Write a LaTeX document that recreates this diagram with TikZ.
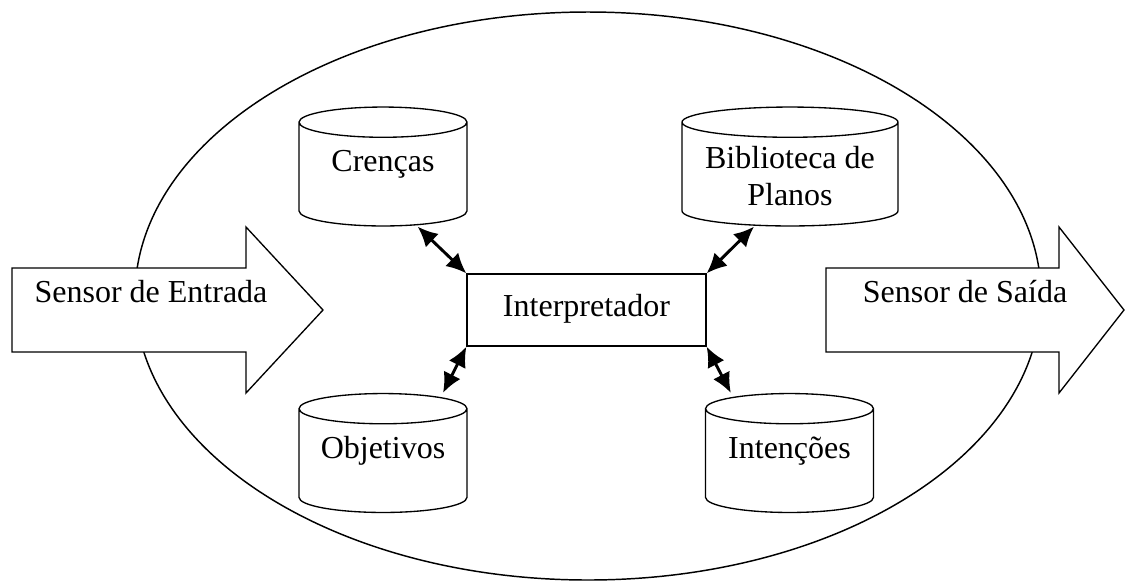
\documentclass[tikz,border=0pt]{standalone}
\usepackage{fontspec}
\setmainfont{Liberation Serif}
\usetikzlibrary{shapes.geometric,arrows.meta}
\tikzset{
% Two node styles: data stores (cylinders) and the interpreter box
store node/.style={cylinder,draw,line width=0.5pt,shape border rotate=90,aspect=0.18,
  minimum width=63pt,minimum height=44.6pt,inner ysep=0pt,inner xsep=31.5pt,
  anchor=shape center},
store label/.style={anchor=base,inner sep=0pt,align=center},
box node/.style={rectangle,draw,line width=0.5pt,minimum width=89.6pt,
  minimum height=27pt,inner sep=0pt,text height=9pt,text depth=4pt},
% Double headed links and the sensor block arrows
link/.style={line width=1.1pt,{Latex[length=7.5pt,width=7pt]}-{Latex[length=7.5pt,width=7pt]}},
block arrow/.style={draw,line width=0.5pt,fill=white,line join=miter}
}
\begin{document}
\begin{tikzpicture}[x=0.375pt,y=-0.375pt,font=\fontsize{12pt}{13.9pt}\selectfont]
      \useasboundingbox (0,0) rectangle (1125,580);
      % The agent
      \draw[line width=0.55pt] (588,296) ellipse [x radius=453, y radius=284];
      % Sensors as block arrows
      \draw[block arrow] (12,268) -- (246,268) -- (246,227) -- (323,310)
        -- (246,393) -- (246,352) -- (12,352) -- cycle;
      \draw[block arrow] (826,268) -- (1059,268) -- (1059,227) -- (1124,310)
        -- (1059,393) -- (1059,352) -- (826,352) -- cycle;
      \node(entrada)[anchor=base] at (151,302) {Sensor de Entrada};
      \node(saida)[anchor=base] at (965,302) {Sensor de Saída};
      % The stores
      \node(crencas)[store node] at (383,166.5) {};
      \node(planos)[store node, minimum width=81pt, inner xsep=40.5pt, aspect=0.14]
        at (790,166.5) {};
      \node(objetivos)[store node] at (383,453) {};
      \node(intencoes)[store node] at (789.5,453) {};
      % Their labels
      \node(crencas label)[store label] at ([yshift=-2pt]crencas.shape center) {Crenças};
      \node(planos label)[store label] at ([yshift=-14.6pt]planos.shape center)
        {Biblioteca de\\Planos};
      \node(objetivos label)[store label] at ([yshift=-1.9pt]objetivos.shape center) {Objetivos};
      \node(intencoes label)[store label] at ([yshift=-1.9pt]intencoes.shape center) {Intenções};
      % The interpreter
      \node(interp)[box node] at (586.5,310) {Interpretador};
      % Links
      \draw[link] ([xshift=13pt]crencas.south) -- (interp.north west);
      \draw[link] ([xshift=-13.5pt]planos.south) -- (interp.north east);
      \draw[link] ([xshift=22.5pt]objetivos.north) -- (interp.south west);
      \draw[link] ([xshift=-22pt]intencoes.north) -- (interp.south east);
    \end{tikzpicture}
\end{document}
